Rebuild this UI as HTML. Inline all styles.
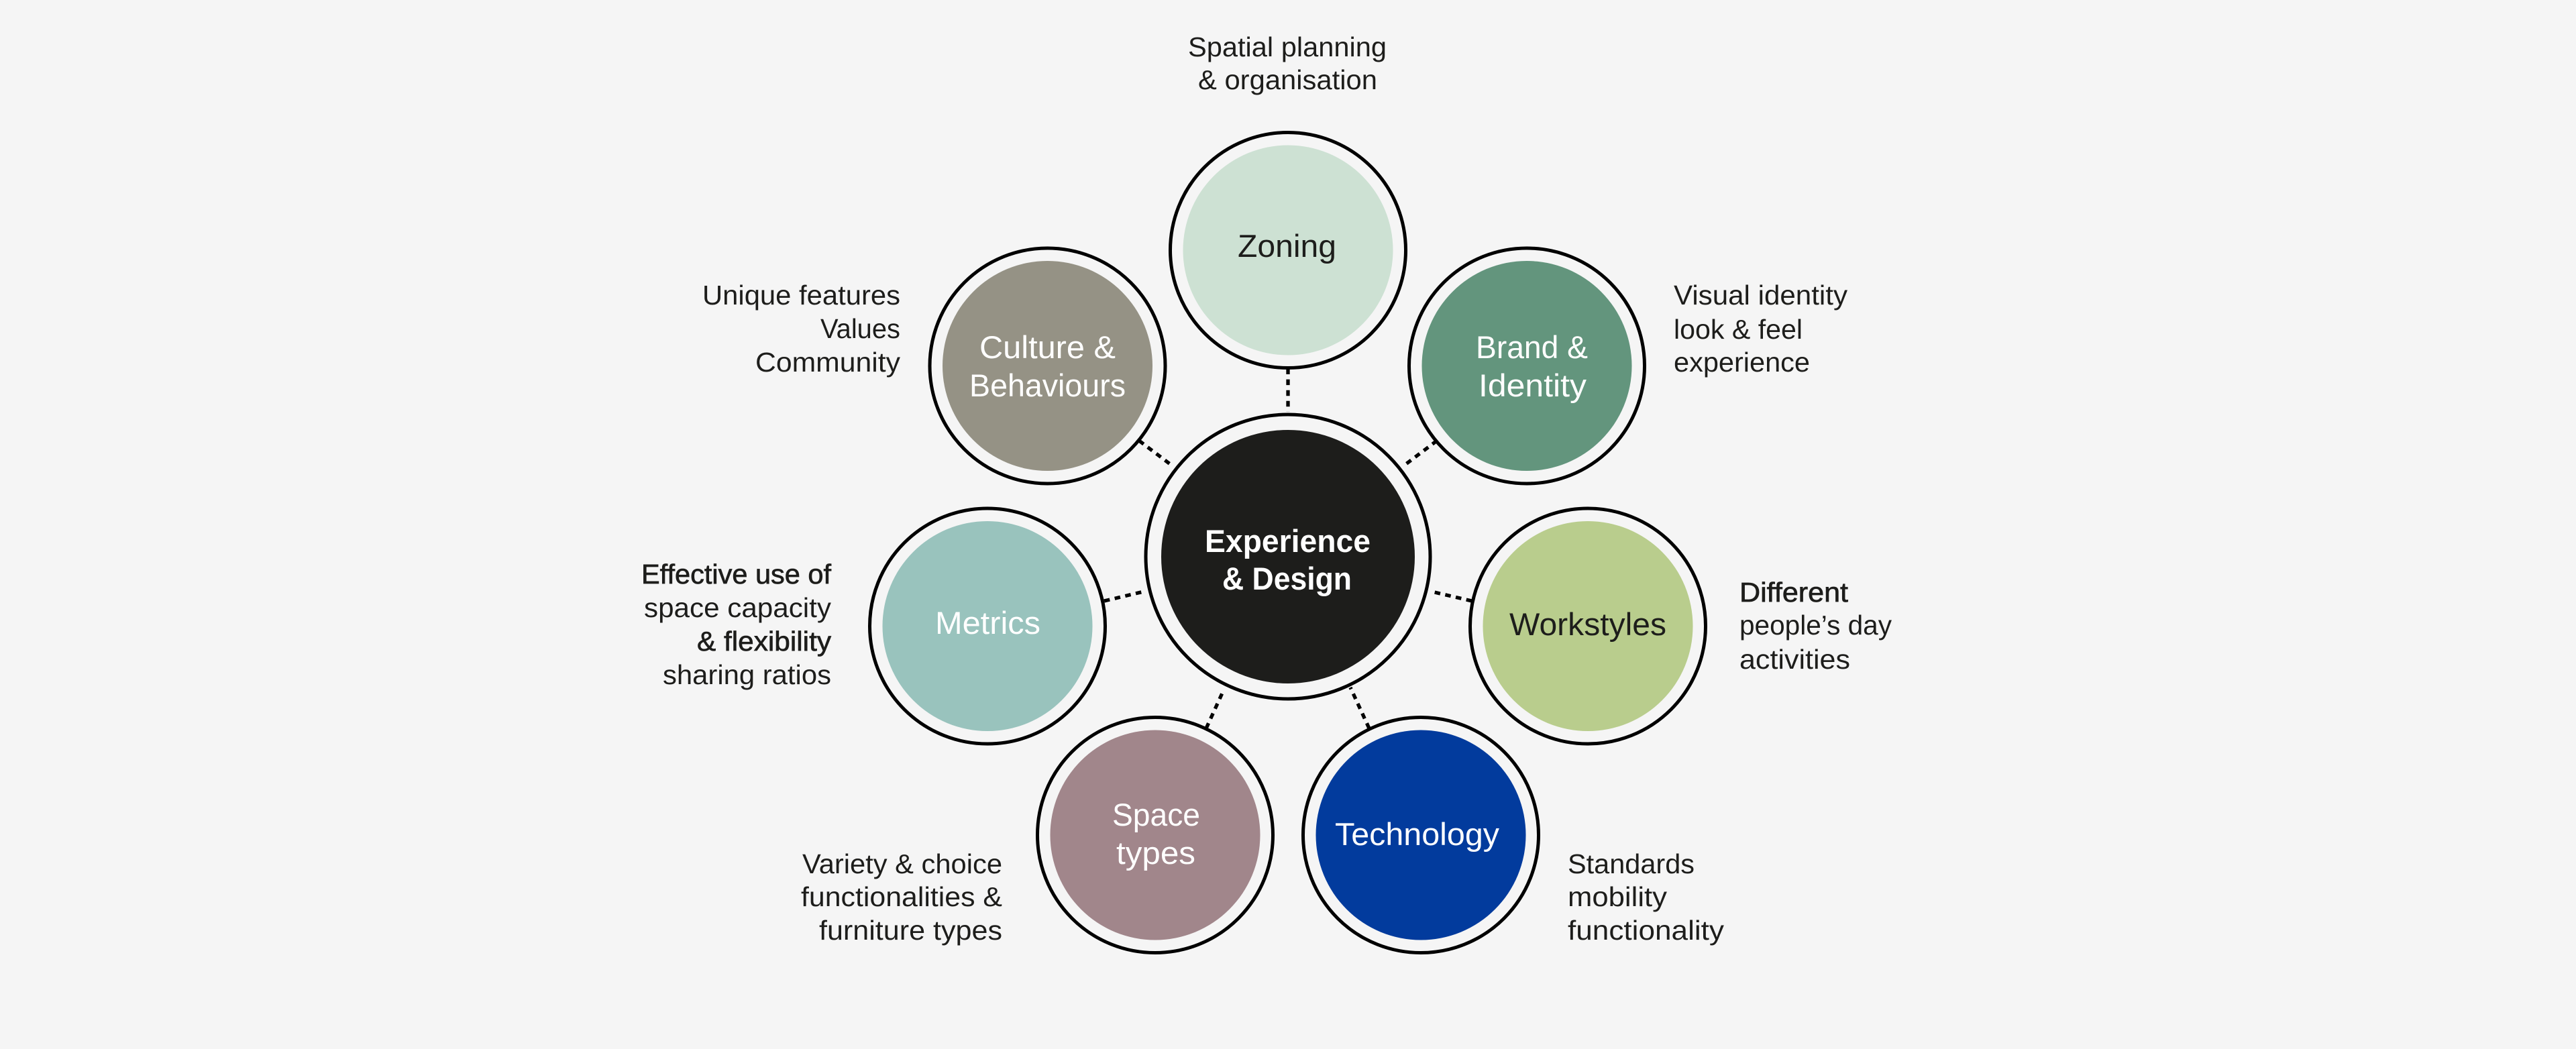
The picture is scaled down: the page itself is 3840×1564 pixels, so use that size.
<!DOCTYPE html>
<html lang="en">
<head>
<meta charset="utf-8">
<title>Experience &amp; Design</title>
<style>
html,body{margin:0;padding:0;background:#f5f5f5;width:3840px;height:1564px;overflow:hidden}
svg{display:block}
text{font-family:"Liberation Sans",sans-serif;fill:#1d1d1b}
.s{font-size:41px}
.n{font-size:47px}
.w{fill:#fff}
.b{font-weight:700}
.h{stroke:#1d1d1b;stroke-width:.7px}
.ring{fill:none;stroke:#000;stroke-width:5}
.d{stroke:#000;stroke-width:5.3;stroke-dasharray:8.5 7.6;fill:none}
</style>
</head>
<body>
<svg xmlns="http://www.w3.org/2000/svg" width="3840" height="1564" viewBox="0 0 3840 1564">
<rect width="3840" height="1564" fill="#f5f5f5"/>

<!-- connectors -->
<path class="d" d="M1920 549.5V614"/>
<path class="d" d="M1698 657L1747 694"/>
<path class="d" d="M2142 657L2093 694"/>
<path class="d" d="M1646 896L1705 882"/>
<path class="d" d="M2194 896L2134 882"/>
<path class="d" d="M1798 1086L1824 1029"/>
<path class="d" d="M2041 1086L2013 1025"/>

<!-- rings and fills -->
<circle class="ring" cx="1920" cy="830" r="212"/>
<circle cx="1920" cy="830" r="189" fill="#1d1d1b"/>

<circle class="ring" cx="1920" cy="373" r="175.5"/>
<circle cx="1920" cy="373" r="156.5" fill="#cde1d3"/>

<circle class="ring" cx="2276" cy="545.5" r="175.5"/>
<circle cx="2276" cy="545.5" r="156.5" fill="#63957d"/>

<circle class="ring" cx="1561.5" cy="545.5" r="175.5"/>
<circle cx="1561.5" cy="545.5" r="156.5" fill="#959285"/>

<circle class="ring" cx="1472" cy="933.5" r="175.5"/>
<circle cx="1472" cy="933.5" r="156.5" fill="#99c3bd"/>

<circle class="ring" cx="2367" cy="933.5" r="175.5"/>
<circle cx="2367" cy="933.5" r="156.5" fill="#b9cd8d"/>

<circle class="ring" cx="1722" cy="1245" r="175.5"/>
<circle cx="1722" cy="1245" r="156.5" fill="#a1868b"/>

<circle class="ring" cx="2118" cy="1245" r="175.5"/>
<circle cx="2118" cy="1245" r="156.5" fill="#023b9d"/>

<!-- node labels -->
<text class="n b w" x="1796" y="823" textLength="247" lengthAdjust="spacingAndGlyphs">Experience</text>
<text class="n b w" x="1822" y="879" textLength="193" lengthAdjust="spacingAndGlyphs">&amp; Design</text>
<text class="n" x="1845" y="383" textLength="147" lengthAdjust="spacingAndGlyphs">Zoning</text>
<text class="n w" x="1460" y="534" textLength="203" lengthAdjust="spacingAndGlyphs">Culture &amp;</text>
<text class="n w" x="1445" y="591" textLength="233" lengthAdjust="spacingAndGlyphs">Behaviours</text>
<text class="n w" x="2200" y="534" textLength="167" lengthAdjust="spacingAndGlyphs">Brand &amp;</text>
<text class="n w" x="2204" y="591" textLength="161" lengthAdjust="spacingAndGlyphs">Identity</text>
<text class="n w" x="1394" y="945" textLength="157" lengthAdjust="spacingAndGlyphs">Metrics</text>
<text class="n" x="2250" y="947" textLength="234" lengthAdjust="spacingAndGlyphs">Workstyles</text>
<text class="n w" x="1658" y="1231" textLength="131" lengthAdjust="spacingAndGlyphs">Space</text>
<text class="n w" x="1664" y="1288" textLength="118" lengthAdjust="spacingAndGlyphs">types</text>
<text class="n w" x="1990" y="1260" textLength="245" lengthAdjust="spacingAndGlyphs">Technology</text>

<!-- side labels -->
<text class="s" x="1771" y="84" textLength="296" lengthAdjust="spacingAndGlyphs">Spatial planning</text>
<text class="s" x="1786" y="133" textLength="267" lengthAdjust="spacingAndGlyphs">&amp; organisation</text>

<text class="s" x="1047" y="454" textLength="295" lengthAdjust="spacingAndGlyphs">Unique features</text>
<text class="s" x="1223" y="504" textLength="119" lengthAdjust="spacingAndGlyphs">Values</text>
<text class="s" x="1126" y="554" textLength="216" lengthAdjust="spacingAndGlyphs">Community</text>

<text class="s h" x="956" y="870" textLength="283" lengthAdjust="spacingAndGlyphs">Effective use of</text>
<text class="s" x="960" y="920" textLength="279" lengthAdjust="spacingAndGlyphs">space capacity</text>
<text class="s h" x="1039" y="970" textLength="200" lengthAdjust="spacingAndGlyphs">&amp; flexibility</text>
<text class="s" x="988" y="1020" textLength="251" lengthAdjust="spacingAndGlyphs">sharing ratios</text>

<text class="s" x="2495" y="454" textLength="259" lengthAdjust="spacingAndGlyphs">Visual identity</text>
<text class="s" x="2495" y="505" textLength="192" lengthAdjust="spacingAndGlyphs">look &amp; feel</text>
<text class="s" x="2495" y="554" textLength="203" lengthAdjust="spacingAndGlyphs">experience</text>

<text class="s h" x="2593" y="897" textLength="162" lengthAdjust="spacingAndGlyphs">Different</text>
<text class="s" x="2593" y="946" textLength="227" lengthAdjust="spacingAndGlyphs">people’s day</text>
<text class="s" x="2593" y="997" textLength="165" lengthAdjust="spacingAndGlyphs">activities</text>

<text class="s" x="1196" y="1302" textLength="298" lengthAdjust="spacingAndGlyphs">Variety &amp; choice</text>
<text class="s" x="1194" y="1351" textLength="300" lengthAdjust="spacingAndGlyphs">functionalities &amp;</text>
<text class="s" x="1221" y="1401" textLength="273" lengthAdjust="spacingAndGlyphs">furniture types</text>

<text class="s" x="2337" y="1302" textLength="189" lengthAdjust="spacingAndGlyphs">Standards</text>
<text class="s" x="2337" y="1351" textLength="148" lengthAdjust="spacingAndGlyphs">mobility</text>
<text class="s" x="2337" y="1401" textLength="233" lengthAdjust="spacingAndGlyphs">functionality</text>
</svg>
</body>
</html>
